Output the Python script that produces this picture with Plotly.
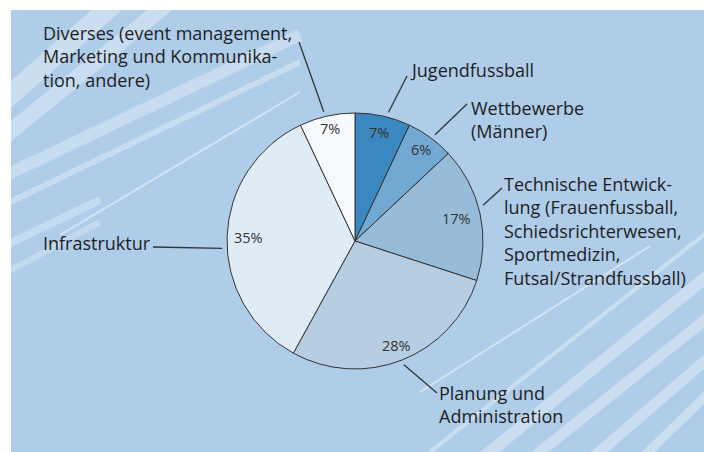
import math
import plotly.graph_objects as go

# ---------------- data ----------------
categories = ["Jugendfussball", "Wettbewerbe (Männer)", "Technische Entwicklung",
              "Planung und Administration", "Infrastruktur", "Diverses"]
values = [7, 6, 17, 28, 35, 7]
pct_labels = ["7%", "6%", "17%", "28%", "35%", "7%"]
label_lines = [
    ["Jugendfussball"],
    ["Wettbewerbe", "(Männer)"],
    ["Technische Entwick-", "lung (Frauenfussball,", "Schiedsrichterwesen,",
     "Sportmedizin,", "Futsal/Strandfussball)"],
    ["Planung und", "Administration"],
    ["Infrastruktur"],
    ["Diverses (event management,", "Marketing und Kommunika-", "tion, andere)"],
]

# ---------------- style / layout ----------------
W, H = 704, 452
BG = "#afcde9"
colors = ["#3b88c0", "#71a9d2", "#97bcda", "#b7cde1", "#e0ecf5", "#f6f9fd"]
CX, CY, R = 355, 241, 128          # pie centre / radius in pixels
pct_radius = [0.87, 0.88, 0.81, 0.88, 0.83, 0.90]
leader_offset_deg = [2, 1, -3, 0, -5, -1]
label_pos = [(408, 70), (469, 108), (502, 184), (437, 393), (41, 243), (41, 33)]
line_ends = [(407, 76), (467, 104), (502, 188), (437, 393), (153, 247), (299, 42)]
FONT = "Open Sans"
FSIZE = 18
TXT = "#1e1e1e"

fig = go.Figure()

fig.add_trace(go.Pie(
    labels=categories, values=values, sort=False, direction="clockwise",
    rotation=0, textinfo="none", hoverinfo="label+percent",
    marker=dict(colors=colors, line=dict(color="#333333", width=1)),
    domain=dict(x=[(CX - R) / W, (CX + R) / W], y=[1 - (CY + R) / H, 1 - (CY - R) / H]),
    showlegend=False,
))

# angles from data
total = sum(values)
cum = 0
mids = []
for v in values:
    mids.append((cum + v / 2) / total * 2 * math.pi)
    cum += v

annotations = []
shapes = []

# decorative stripes (top-left and bottom-right)
stripes = [
    ((0, 104), (118, 0), 20, 0.35),
    ((0, 140), (172, 0), 16, 0.33),
    ((0, 178), (300, 35), 12, 0.30),
    ((0, 207), (300, 62), 6, 0.30),
    ((60, 235), (300, 92), 2, 0.45),
    ((0, 248), (100, 200), 8, 0.28),
    ((0, 276), (100, 222), 6, 0.25),
    ((720, 222), (430, 452), 4, 0.35),
    ((650, 246), (420, 392), 2, 0.45),
    ((720, 266), (480, 460), 12, 0.35),
    ((720, 308), (530, 460), 11, 0.35),
    ((720, 348), (590, 460), 11, 0.35),
    ((720, 382), (640, 460), 9, 0.35),
]
for (x0, y0), (x1, y1), w, op in stripes:
    shapes.append(dict(type="line", xref="x", yref="y", x0=x0, y0=y0, x1=x1, y1=y1,
                       line=dict(color=f"rgba(255,255,255,{op})", width=w), layer="below"))

gap = 1.3 * FSIZE
for i, th in enumerate(mids):
    # percentage label inside slice
    rr = R * pct_radius[i]
    annotations.append(dict(
        x=CX + rr * math.sin(th), y=CY - rr * math.cos(th), xref="x", yref="y",
        text=pct_labels[i], showarrow=False, xanchor="center", yanchor="middle",
        font=dict(family=FONT, size=14.5, color="#333333")))
    # leader line
    la = th + math.radians(leader_offset_deg[i])
    sx, sy = CX + (R + 5) * math.sin(la), CY - (R + 5) * math.cos(la)
    ex, ey = line_ends[i]
    shapes.append(dict(type="line", xref="x", yref="y", x0=sx, y0=sy, x1=ex, y1=ey,
                       line=dict(color="#333333", width=1.3), layer="above"))
    # category label (multi-line)
    lx, ly = label_pos[i]
    n = len(label_lines[i])
    annotations.append(dict(
        x=lx, y=ly + (n - 1) * gap / 2, xref="x", yref="y",
        text="<br>".join(label_lines[i]), align="left",
        showarrow=False, xanchor="left", yanchor="middle",
        font=dict(family=FONT, size=FSIZE, color=TXT)))

fig.update_layout(
    width=W, height=H, margin=dict(l=0, r=0, t=0, b=0),
    paper_bgcolor="white", plot_bgcolor=BG,
    xaxis=dict(domain=[11 / W, 1], range=[11, W], visible=False, fixedrange=True),
    yaxis=dict(domain=[0, 1 - 10 / H], range=[H, 10], visible=False, fixedrange=True),
    shapes=shapes, annotations=annotations,
)

fig.write_html("out.html", config={"displayModeBar": False},
               post_script="document.body.style.margin='0';document.body.style.overflow='hidden';")
